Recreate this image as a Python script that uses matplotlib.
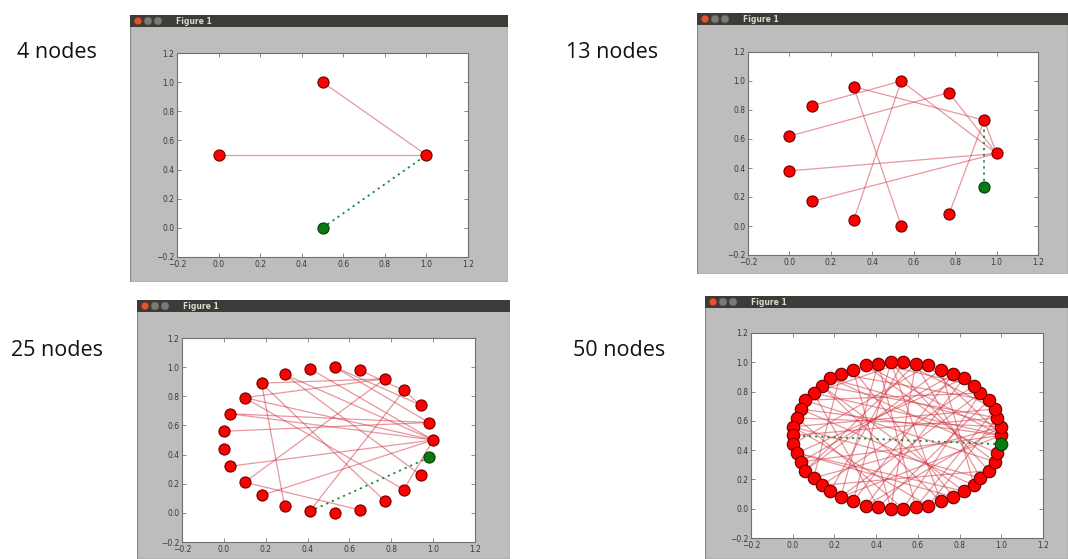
import matplotlib
matplotlib.use("Agg")
import matplotlib.pyplot as plt
from matplotlib.patches import Rectangle, Circle

W, H = 1068, 559

# --- data ---
labels = ["4 nodes", "13 nodes", "25 nodes", "50 nodes"]

nodes4_x = [1.0, 0.5, 0.0, 0.5]
nodes4_y = [0.5, 1.0, 0.5, 0.0]
edges4 = [(0, 1), (0, 2)]
path4 = (3, 0)

nodes13_x = [1.0, 0.94, 0.77, 0.54, 0.31, 0.11, 0.0, 0.0, 0.11, 0.31, 0.54, 0.77, 0.94]
nodes13_y = [0.5, 0.73, 0.92, 1.0, 0.96, 0.83, 0.62, 0.38, 0.17, 0.04, 0.0, 0.08, 0.27]
edges13 = [(5, 3), (4, 1), (3, 0), (2, 6), (2, 0), (7, 0), (8, 0), (4, 10),
           (3, 9), (11, 1), (1, 0)]
path13 = (12, 1)

nodes25_x = [1.0, 0.98, 0.94, 0.86, 0.77, 0.65, 0.53, 0.41, 0.29, 0.18, 0.10, 0.03, 0.0,
             0.0, 0.03, 0.10, 0.18, 0.29, 0.41, 0.53, 0.65, 0.77, 0.86, 0.94, 0.98]
nodes25_y = [0.5, 0.62, 0.74, 0.84, 0.92, 0.98, 1.0, 0.99, 0.95, 0.89, 0.79, 0.68, 0.56,
             0.44, 0.32, 0.21, 0.12, 0.05, 0.01, 0.0, 0.02, 0.08, 0.16, 0.26, 0.38]
edges25 = [(0, 7), (0, 8), (0, 10), (0, 14), (0, 16), (1, 11), (1, 12), (1, 6),
           (4, 9), (4, 10), (4, 15), (3, 18), (3, 5), (9, 17), (9, 21), (8, 23),
           (10, 22), (15, 20), (2, 3), (22, 0), (6, 2), (11, 0)]
path25 = (24, 18)

nodes50_x = [1.0, 1.0, 0.98, 0.97, 0.94, 0.9, 0.87, 0.82, 0.77, 0.71, 0.65, 0.59, 0.53,
             0.47, 0.41, 0.35, 0.29, 0.23, 0.18, 0.14, 0.1, 0.06, 0.04, 0.02, 0.0,
             0.0, 0.0, 0.02, 0.04, 0.06, 0.1, 0.14, 0.18, 0.23, 0.29, 0.35, 0.41, 0.47,
             0.53, 0.59, 0.65, 0.71, 0.77, 0.82, 0.87, 0.9, 0.94, 0.97, 0.98, 1.0]
nodes50_y = [0.5, 0.56, 0.62, 0.68, 0.74, 0.79, 0.84, 0.89, 0.92, 0.95, 0.98, 0.99, 1.0,
             1.0, 0.99, 0.98, 0.95, 0.92, 0.89, 0.84, 0.79, 0.74, 0.68, 0.62, 0.56,
             0.5, 0.44, 0.38, 0.32, 0.26, 0.21, 0.16, 0.12, 0.08, 0.05, 0.02, 0.01, 0.0,
             0.0, 0.01, 0.02, 0.05, 0.08, 0.12, 0.16, 0.21, 0.26, 0.32, 0.38, 0.44]
edges50 = [(0, 20), (0, 22), (0, 28), (0, 33), (0, 15), (0, 10), (1, 23), (1, 18),
           (1, 30), (1, 35), (2, 25), (2, 19), (2, 40), (3, 24), (3, 12), (4, 17),
           (4, 36), (5, 21), (5, 38), (6, 14), (6, 31), (7, 27), (8, 34), (9, 29),
           (9, 44), (10, 26), (11, 37), (11, 45), (12, 32), (13, 41), (13, 46),
           (14, 39), (15, 47), (16, 42), (17, 30), (18, 48), (19, 43), (20, 36),
           (21, 47), (22, 44), (23, 38), (24, 45), (27, 42), (28, 8), (29, 11),
           (31, 46), (33, 5), (34, 13), (35, 7), (37, 16), (39, 3), (40, 24),
           (41, 19), (43, 27), (12, 20), (14, 33)]
path50 = (49, 25)

panels = [
    (nodes4_x, nodes4_y, edges4, path4),
    (nodes13_x, nodes13_y, edges13, path13),
    (nodes25_x, nodes25_y, edges25, path25),
    (nodes50_x, nodes50_y, edges50, path50),
]

# window boxes (left, top, right, bottom) and axes boxes in pixels
windows = [(130, 15, 508, 282), (697, 13, 1068, 274), (137, 300, 510, 559), (705, 296, 1068, 559)]
axboxes = [(177, 53, 468, 257), (748, 52, 1038, 255), (182, 338, 475, 542), (751, 333, 1043, 538)]
label_pos = [(57, 53), (612, 53), (57, 351), (619, 351)]
node_size = [8, 8, 8, 9]


def px_rect(l, t, r, b):
    return [l / W, 1 - b / H, (r - l) / W, (b - t) / H]


def draw_window(fig, box):
    l, t, r, b = box
    w, h = r - l, b - t
    bg = fig.add_axes(px_rect(l, t, r, b))
    bg.set_xlim(0, w)
    bg.set_ylim(h, 0)
    bg.axis("off")
    bg.add_patch(Rectangle((0, 0), w, h, facecolor="#bdbdbd", edgecolor="#8a8a8a", lw=1))
    bg.add_patch(Rectangle((0, 0), w, 12, facecolor="#3c3b37", edgecolor="none"))
    bg.add_patch(Circle((8, 6), 4, facecolor="#e2552c", edgecolor="#5a2a1a", lw=0.5))
    bg.add_patch(Circle((18, 6), 4, facecolor="#7b7a75", edgecolor="#555", lw=0.5))
    bg.add_patch(Circle((28, 6), 4, facecolor="#7b7a75", edgecolor="#555", lw=0.5))
    bg.text(46, 6.5, "Figure 1", color="#dcd8cf", fontsize=5.5, fontweight="bold",
            va="center", ha="left")


fig = plt.figure(figsize=(W / 100, H / 100), dpi=100)
fig.patch.set_facecolor("white")

for i, ((xs, ys, edges, path), win, axb, lab, lp) in enumerate(
        zip(panels, windows, axboxes, labels, label_pos)):
    draw_window(fig, win)
    ax = fig.add_axes(px_rect(*axb))
    ax.set_facecolor("white")

    for a, b in edges:
        ax.plot([xs[a], xs[b]], [ys[a], ys[b]], color="#d0303c", alpha=0.5, lw=0.9, zorder=1)
    a, b = path
    ax.plot([xs[a], xs[b]], [ys[a], ys[b]], color="#1a8a3a", lw=1.3,
            linestyle=(0, (1.2, 2.2)), zorder=2)

    ms = node_size[i]
    ax.plot(xs[:-1], ys[:-1], "o", color="#ff0000", markersize=ms,
            markeredgecolor="#6b0000", markeredgewidth=0.8, zorder=3)
    ax.plot(xs[-1:], ys[-1:], "o", color="#0a7a12", markersize=ms,
            markeredgecolor="#063d08", markeredgewidth=0.8, zorder=3)

    ticks = [-0.2, 0.0, 0.2, 0.4, 0.6, 0.8, 1.0, 1.2]
    ax.set_xlim(-0.2, 1.2)
    ax.set_ylim(-0.2, 1.2)
    ax.set_xticks(ticks)
    ax.set_yticks(ticks)
    ax.set_xticklabels([f"{t:.1f}".replace("-", "\u2212") for t in ticks])
    ax.set_yticklabels([f"{t:.1f}".replace("-", "\u2212") for t in ticks])
    ax.tick_params(direction="in", top=True, right=True, length=3, width=0.6,
                   color="#777", labelsize=5.5, labelcolor="#3a3a3a", pad=2)
    for sp in ax.spines.values():
        sp.set_color("#6f6f6f")
        sp.set_linewidth(0.8)

    fig.text(lp[0] / W, 1 - lp[1] / H, lab, fontsize=15.5, family=["Open Sans", "DejaVu Sans"],
             ha="center", va="center", color="#111")

fig.savefig("out.png", dpi=100, facecolor="white")
